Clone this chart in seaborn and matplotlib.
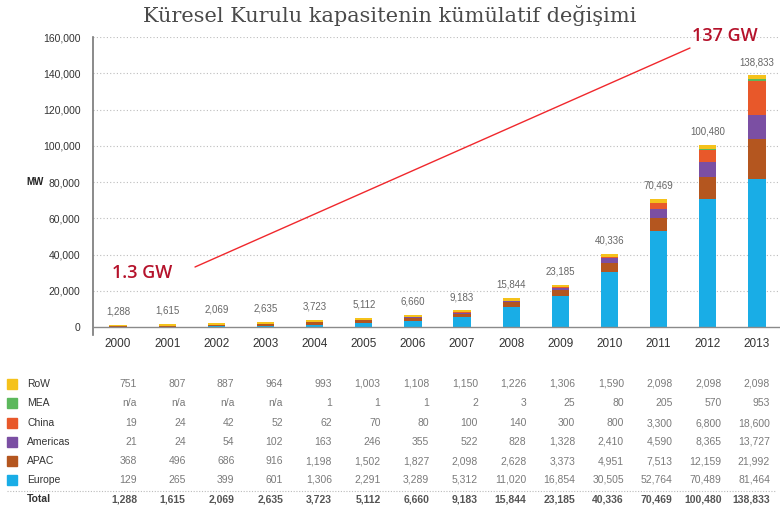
import numpy as np
import pandas as pd
import matplotlib
matplotlib.use("Agg")
import matplotlib.pyplot as plt
import seaborn as sns
from matplotlib.lines import Line2D
from matplotlib.patches import Rectangle
from matplotlib.ticker import FuncFormatter

# data (MW)
years = [str(y) for y in range(2000, 2014)]
europe = [129, 265, 399, 601, 1306, 2291, 3289, 5312, 11020, 16854, 30505, 52764, 70489, 81464]
apac = [368, 496, 686, 916, 1198, 1502, 1827, 2098, 2628, 3373, 4951, 7513, 12159, 21992]
americas = [21, 24, 54, 102, 163, 246, 355, 522, 828, 1328, 2410, 4590, 8365, 13727]
china = [19, 24, 42, 52, 62, 70, 80, 100, 140, 300, 800, 3300, 6800, 18600]
mea = [None, None, None, None, 1, 1, 1, 2, 3, 25, 80, 205, 570, 953]
row = [751, 807, 887, 964, 993, 1003, 1108, 1150, 1226, 1306, 1590, 2098, 2098, 2098]
totals = [1288, 1615, 2069, 2635, 3723, 5112, 6660, 9183, 15844, 23185, 40336, 70469, 100480, 138833]

series_names = ["Europe", "APAC", "Americas", "China", "MEA", "RoW"]
series_vals = [europe, apac, americas, china, mea, row]
colors = {"Europe": "#19ade6", "APAC": "#b4561f", "Americas": "#7b4fa3",
          "China": "#e8582a", "MEA": "#5cb85c", "RoW": "#f5c21b"}

sns.set_style("white")
plt.rcParams["font.family"] = ["Liberation Sans", "DejaVu Sans"]

df = pd.DataFrame({n: [0 if v is None else v for v in vals]
                   for n, vals in zip(series_names, series_vals)})
cum = df[series_names].cumsum(axis=1)
cum["year"] = years

fig = plt.figure(figsize=(7.8, 5.07), dpi=100)
ax = fig.add_axes([93 / 780, 1 - 335 / 507, 687 / 780, (335 - 37) / 507])

# stacked bars: draw cumulative sums from the top series down
for name in reversed(series_names):
    sns.barplot(data=cum, x="year", y=name, color=colors[name], width=0.35,
                saturation=1, errorbar=None, linewidth=0, edgecolor="none",
                ax=ax, zorder=3)

ax.set_xlim(-0.51, 13.47)
ax.set_ylim(-4400, 160000)
ax.set_yticks(np.arange(0, 160001, 20000))
ax.yaxis.set_major_formatter(FuncFormatter(lambda v, p: f"{v:,.0f}"))
ax.set_xlabel("")
ax.set_ylabel("")
for y in np.arange(20000, 160001, 20000):
    ax.axhline(y, color="#bdbdbd", lw=0.8, ls=(0, (1, 2)), zorder=1)
ax.axhline(0, color="#8a8a8a", lw=1.0, zorder=4)

for s in ["top", "right", "bottom"]:
    ax.spines[s].set_visible(False)
ax.spines["left"].set_color("#777777")
ax.spines["left"].set_linewidth(1.2)
ax.tick_params(axis="y", length=5, width=1, color="#777777", labelsize=7.5,
               labelcolor="#333333", pad=4)
ax.tick_params(axis="x", length=0, labelsize=8.5, labelcolor="#333333", pad=2.5)

for i, t in enumerate(totals):
    ax.annotate(f"{t:,}", (i, t), xytext=(0, 6), textcoords="offset points",
                ha="center", va="bottom", fontsize=7, color="#666666")

fig.text(35 / 780, 1 - 182 / 507, "MW", ha="center", va="center",
         fontsize=7, fontweight="bold", color="#222222")

# title and highlight annotation
fig.text(390 / 780, 1 - 15 / 507, "Küresel Kurulu kapasitenin kümülatif değişimi",
         ha="center", va="center", fontsize=15, color="#4a4a4a",
         family=["DejaVu Serif"])
fig.add_artist(Line2D([195 / 780, 690 / 780], [1 - 267 / 507, 1 - 48 / 507],
                      transform=fig.transFigure, color="#f0282d", lw=1))
fig.text(725 / 780, 1 - 36 / 507, "137 GW", ha="center", va="center",
         fontsize=13, fontweight="semibold", color="#b5122b", family=["Open Sans"])
fig.text(142 / 780, 1 - 273 / 507, "1.3 GW", ha="center", va="center",
         fontsize=13, fontweight="semibold", color="#b5122b", family=["Open Sans"])

# data table under the chart
row_y = {"RoW": 384, "MEA": 403, "China": 423, "Americas": 442, "APAC": 461, "Europe": 480}
col_right = [137 + i * 48.7 for i in range(len(years))]
for name, vals in zip(series_names, series_vals):
    yy = 1 - row_y[name] / 507
    fig.add_artist(Rectangle((7 / 780, yy - 5 / 507), 10 / 780, 10 / 507,
                             transform=fig.transFigure, color=colors[name]))
    fig.text(27 / 780, yy, name, ha="left", va="center", fontsize=7.5, color="#333333")
    for x, v in zip(col_right, vals):
        txt = "n/a" if v is None else f"{v:,}"
        fig.text(x / 780, yy, txt, ha="right", va="center", fontsize=7.5, color="#7a7a7a")

fig.add_artist(Line2D([7 / 780, 775 / 780], [1 - 491 / 507] * 2, transform=fig.transFigure,
                      color="#bbbbbb", lw=0.8, ls=(0, (1, 1.5))))
yt = 1 - 499 / 507
fig.text(27 / 780, yt, "Total", ha="left", va="center", fontsize=7.5,
         fontweight="bold", color="#333333")
for x, t in zip(col_right, totals):
    fig.text(x / 780, yt, f"{t:,}", ha="right", va="center", fontsize=7.5,
             fontweight="bold", color="#555555")

fig.savefig("out.png", dpi=100)
